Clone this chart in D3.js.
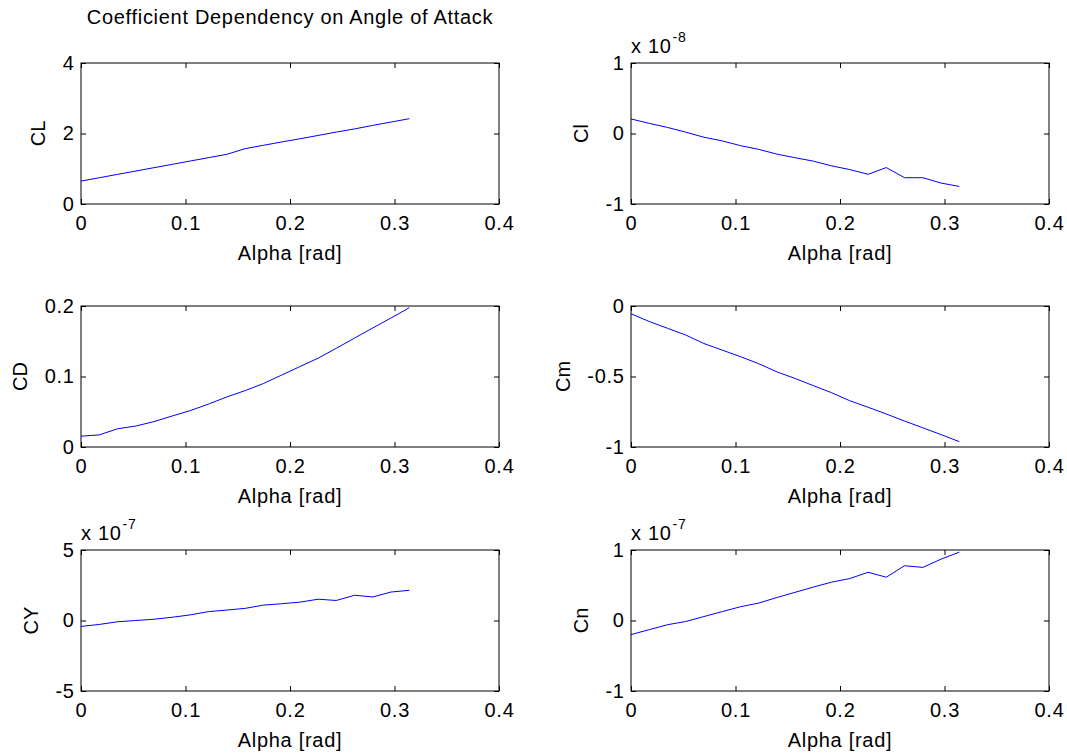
<!DOCTYPE html>
<html>
<head>
<meta charset="utf-8">
<script src="https://cdn.jsdelivr.net/npm/d3@7"></script>
<style>
  body { margin: 0; background: #fff; }
  text { font-family: "Liberation Sans", Arial, sans-serif; fill: #000; }
  .htext { letter-spacing: 0.7px; }
</style>
</head>
<body>
<svg id="fig" width="1067" height="755"></svg>
<script>
// Angle of attack samples (rad), 0..18 degrees in 1 degree steps
const alpha = [0, 0.0175, 0.0349, 0.0524, 0.0698, 0.0873, 0.1047, 0.1222, 0.1396, 0.1571,
               0.1745, 0.1920, 0.2094, 0.2269, 0.2443, 0.2618, 0.2793, 0.2967, 0.3142];

// Aerodynamic coefficients at each alpha
const CL = [0.65, 0.745, 0.84, 0.935, 1.03, 1.125, 1.22, 1.315, 1.41, 1.57,
            1.665, 1.76, 1.85, 1.945, 2.04, 2.13, 2.23, 2.325, 2.42];
const Cl = [0.206e-8, 0.144e-8, 0.086e-8, 0.019e-8, -0.053e-8, -0.105e-8, -0.172e-8, -0.225e-8,
            -0.292e-8, -0.344e-8, -0.392e-8, -0.459e-8, -0.512e-8, -0.579e-8, -0.483e-8,
            -0.627e-8, -0.627e-8, -0.703e-8, -0.751e-8];
const CD = [0.0153, 0.0172, 0.0258, 0.0297, 0.036, 0.044, 0.0517, 0.061, 0.071, 0.080,
            0.090, 0.102, 0.114, 0.126, 0.140, 0.1545, 0.169, 0.183, 0.1976];
const Cm = [-0.055, -0.110, -0.158, -0.206, -0.266, -0.313, -0.359, -0.409, -0.467, -0.514,
            -0.565, -0.615, -0.672, -0.718, -0.766, -0.816, -0.864, -0.912, -0.962];
const CY = [-0.42e-7, -0.28e-7, -0.09e-7, 0.0, 0.09e-7, 0.23e-7, 0.40e-7, 0.63e-7, 0.74e-7, 0.86e-7,
            1.09e-7, 1.19e-7, 1.30e-7, 1.51e-7, 1.42e-7, 1.79e-7, 1.67e-7, 2.02e-7, 2.14e-7];
const Cn = [-0.20e-7, -0.13e-7, -0.06e-7, -0.014e-7, 0.056e-7, 0.126e-7, 0.195e-7, 0.247e-7,
            0.326e-7, 0.40e-7, 0.474e-7, 0.544e-7, 0.595e-7, 0.684e-7, 0.614e-7, 0.777e-7,
            0.753e-7, 0.87e-7, 0.97e-7];

// Tick values
const xTicks = [0, 0.1, 0.2, 0.3, 0.4];
const ticksCL = [0, 2, 4];
const ticksCl = [-1e-8, 0, 1e-8];
const ticksCD = [0, 0.1, 0.2];
const ticksCm = [-1, -0.5, 0];
const ticksCY = [-5e-7, 0, 5e-7];
const ticksCn = [-1e-7, 0, 1e-7];

const titleText = "Coefficient Dependency on Angle of Attack";
const xLabel = "Alpha [rad]";

const panels = [
  { name: "CL", values: CL, ticks: ticksCL, exp: 0,  row: 0, col: 0 },
  { name: "Cl", values: Cl, ticks: ticksCl, exp: -8, row: 0, col: 1 },
  { name: "CD", values: CD, ticks: ticksCD, exp: 0,  row: 1, col: 0 },
  { name: "Cm", values: Cm, ticks: ticksCm, exp: 0,  row: 1, col: 1 },
  { name: "CY", values: CY, ticks: ticksCY, exp: -7, row: 2, col: 0 },
  { name: "Cn", values: Cn, ticks: ticksCn, exp: -7, row: 2, col: 1 }
];

// Subplot grid geometry
const colLeft = [81, 631];
const rowTop = [63, 306, 550];
const axW = 418, axH = 141;
const fontSize = 20, tickLen = 5;

const svg = d3.select("#fig");
svg.append("rect").attr("width", 1067).attr("height", 755).attr("fill", "#fff");

const fmt = (v, exp) => {
  const s = Math.round(v / Math.pow(10, exp) * 1000) / 1000;
  return String(s);
};

panels.forEach(p => {
  const x0 = colLeft[p.col], y0 = rowTop[p.row];
  const g = svg.append("g").attr("transform", `translate(${x0},${y0})`);

  const x = d3.scaleLinear().domain([0, 0.4]).range([0, axW]);
  const y = d3.scaleLinear().domain([p.ticks[0], p.ticks[p.ticks.length - 1]]).range([axH, 0]);

  // data line
  const line = d3.line().x((d, i) => x(alpha[i])).y(d => y(d));
  g.append("path").datum(p.values)
    .attr("d", line)
    .attr("fill", "none")
    .attr("stroke", "#0000ff")
    .attr("stroke-width", 1);

  // axes: labelled bottom/left, mirrored tick marks top/right
  const styleAxis = sel => {
    sel.select(".domain").remove();
    sel.selectAll(".tick line").attr("stroke", "#000").attr("stroke-width", 1);
    sel.selectAll(".tick text").attr("font-size", fontSize).attr("font-family", null)
      .attr("fill", "#000").attr("class", "htext");
  };
  g.append("g").attr("transform", `translate(0,${axH})`)
    .call(d3.axisBottom(x).tickValues(xTicks).tickSize(-tickLen).tickPadding(12).tickFormat(v => fmt(v, 0)))
    .call(styleAxis);
  g.append("g")
    .call(d3.axisTop(x).tickValues(xTicks).tickSize(-tickLen).tickFormat(""))
    .call(styleAxis);
  const yAxisG = g.append("g")
    .call(d3.axisLeft(y).tickValues(p.ticks).tickSize(-tickLen).tickPadding(6.4).tickFormat(v => fmt(v, p.exp)))
    .call(styleAxis);
  g.append("g").attr("transform", `translate(${axW},0)`)
    .call(d3.axisRight(y).tickValues(p.ticks).tickSize(-tickLen).tickFormat(""))
    .call(styleAxis);

  // box
  g.append("rect").attr("width", axW).attr("height", axH)
    .attr("fill", "none").attr("stroke", "#000").attr("stroke-width", 1);

  // x label
  g.append("text").attr("class", "htext").attr("x", axW / 2).attr("y", axH + 56)
    .attr("text-anchor", "middle").attr("font-size", fontSize).text(xLabel);

  // y label placed just outside the widest tick label
  let maxW = 0;
  yAxisG.selectAll(".tick text").each(function () { maxW = Math.max(maxW, this.getComputedTextLength()); });
  const lx = -7 - maxW - 17;
  g.append("text")
    .attr("transform", `translate(${lx},${axH / 2}) rotate(-90)`)
    .attr("text-anchor", "middle").attr("font-size", fontSize).text(p.name);

  // exponent multiplier
  if (p.exp !== 0) {
    const t = g.append("text").attr("class", "htext").attr("x", 0).attr("y", -10).attr("font-size", fontSize);
    t.append("tspan").text("x 10");
    t.append("tspan").attr("dy", -11).attr("dx", 1).attr("font-size", 14).text(String(p.exp));
  }
});

// figure title, centred over the first subplot
svg.append("text").attr("class", "htext").attr("x", colLeft[0] + axW / 2).attr("y", 24)
  .attr("text-anchor", "middle").attr("font-size", fontSize).text(titleText);
</script>
</body>
</html>
